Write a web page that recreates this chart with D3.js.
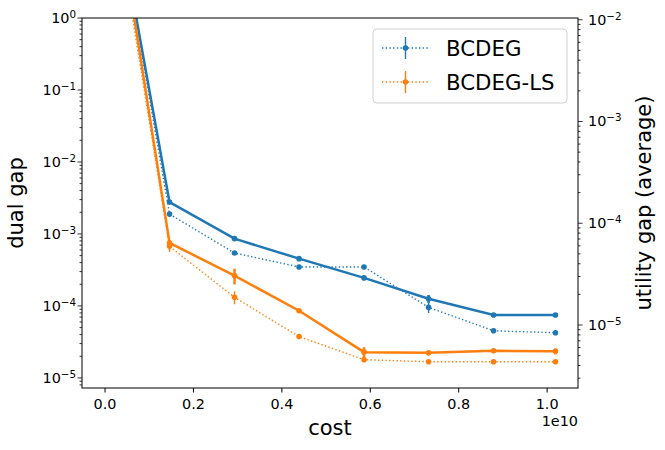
<!DOCTYPE html>
<html>
<head>
<meta charset="utf-8">
<script src="https://d3js.org/d3.v7.min.js"></script>
<style>
body { margin: 0; background: #fff; }
text { font-family: "DejaVu Sans", sans-serif; fill: #000; }
</style>
</head>
<body>
<div id="chart"></div>
<script>
var costs = [0, 0.147e10, 0.294e10, 0.44e10, 0.587e10, 0.733e10, 0.88e10, 1.02e10];

// dual gap (left axis, solid lines)
var bcdegDual = [280, 2.77e-3, 8.6e-4, 4.54e-4, 2.45e-4, 1.26e-4, 7.47e-5, 7.47e-5];
var bcdegDualErr = [0, 0.08e-3, 0, 0, 0, 1.6e-5, 0, 0];
var lsDual = [430, 7.5e-4, 2.64e-4, 8.57e-5, 2.28e-5, 2.23e-5, 2.38e-5, 2.35e-5];
var lsDualErr = [0, 0.75e-4, 0.65e-4, 0, 0.39e-5, 0, 0, 0.23e-5];

// utility gap (right axis, dotted lines)
var bcdegUtil = [0.6, 1.23e-4, 5.1e-5, 3.72e-5, 3.72e-5, 1.49e-5, 8.77e-6, 8.4e-6];
var bcdegUtilErr = [0, 0.55e-5, 0, 0, 0, 1.8e-6, 0, 0];
var lsUtil = [0.52, 5.93e-5, 1.87e-5, 7.7e-6, 4.56e-6, 4.36e-6, 4.36e-6, 4.36e-6];
var lsUtilErr = [0, 0.7e-5, 0.27e-5, 0, 0, 0, 0, 0];

var seriesNames = ["BCDEG", "BCDEG-LS"];
var colors = ["#1f77b4", "#ff7f0e"];
var xTicks = [0, 0.2e10, 0.4e10, 0.6e10, 0.8e10, 1.0e10];
var leftTicks = [-5, -4, -3, -2, -1, 0];
var rightTicks = [-5, -4, -3, -2];

var svgWidth = 665;
var svgHeight = 450;
var margin = { top: 18, right: 87, bottom: 62, left: 82 };
var width = svgWidth - margin.left - margin.right;
var height = svgHeight - margin.top - margin.bottom;

var svg = d3.select("#chart")
    .append("svg")
    .attr("width", svgWidth)
    .attr("height", svgHeight);

var chartGroup = svg.append("g")
    .attr("transform", `translate(${margin.left}, ${margin.top})`);

chartGroup.append("clipPath")
    .attr("id", "plotclip")
    .append("rect")
    .attr("width", width)
    .attr("height", height);

var xPad = 0.05 * (d3.max(costs) - d3.min(costs));
var xScale = d3.scaleLinear()
    .domain([d3.min(costs) - xPad, d3.max(costs) + xPad])
    .range([0, width]);

var yLeft = d3.scaleLog()
    .domain([Math.pow(10, -5.14), 1])
    .range([height, 0]);

var yRight = d3.scaleLog()
    .domain([Math.pow(10, -5.619), Math.pow(10, -1.983)])
    .range([height, 0]);

function minorTicks(scale) {
    var d = scale.domain();
    var out = [];
    for (var e = Math.floor(Math.log10(d[0])); e <= Math.ceil(Math.log10(d[1])); e++) {
        for (var m = 2; m <= 9; m++) {
            var v = m * Math.pow(10, e);
            if (v >= d[0] && v <= d[1]) out.push(v);
        }
    }
    return out;
}

function powLabel(sel, e) {
    sel.append("tspan").text("10");
    sel.append("tspan")
        .attr("dy", "-0.5em")
        .style("font-size", "10.3px")
        .text(e < 0 ? "\u2212" + (-e) : e);
}

// x axis
var bottomAxis = d3.axisBottom(xScale)
    .tickValues(xTicks)
    .tickSize(4.5)
    .tickPadding(6)
    .tickFormat(d => (d / 1e10).toFixed(1));

var xAxisG = chartGroup.append("g")
    .attr("transform", `translate(0, ${height})`)
    .call(bottomAxis);
xAxisG.select(".domain").remove();
xAxisG.selectAll("text").style("font-size", "14.4px").style("font-family", "DejaVu Sans");

// left axis
var leftG = chartGroup.append("g");
leftG.selectAll(".lminor")
    .data(minorTicks(yLeft))
    .enter()
    .append("line")
    .attr("x1", -2.5).attr("x2", 0)
    .attr("y1", d => yLeft(d)).attr("y2", d => yLeft(d))
    .attr("stroke", "#000").attr("stroke-width", 0.8);
leftG.selectAll(".lmajor")
    .data(leftTicks)
    .enter()
    .append("line")
    .attr("x1", -4.5).attr("x2", 0)
    .attr("y1", d => yLeft(Math.pow(10, d))).attr("y2", d => yLeft(Math.pow(10, d)))
    .attr("stroke", "#000").attr("stroke-width", 0.8);
leftG.selectAll(".llabel")
    .data(leftTicks)
    .enter()
    .append("text")
    .attr("x", -6)
    .attr("y", d => yLeft(Math.pow(10, d)) + 5)
    .attr("text-anchor", "end")
    .style("font-size", "14.4px")
    .each(function(d) { powLabel(d3.select(this), d); });

// right axis
var rightG = chartGroup.append("g")
    .attr("transform", `translate(${width}, 0)`);
rightG.selectAll(".rminor")
    .data(minorTicks(yRight))
    .enter()
    .append("line")
    .attr("x1", 0).attr("x2", 2.5)
    .attr("y1", d => yRight(d)).attr("y2", d => yRight(d))
    .attr("stroke", "#000").attr("stroke-width", 0.8);
rightG.selectAll(".rmajor")
    .data(rightTicks)
    .enter()
    .append("line")
    .attr("x1", 0).attr("x2", 4.5)
    .attr("y1", d => yRight(Math.pow(10, d))).attr("y2", d => yRight(Math.pow(10, d)))
    .attr("stroke", "#000").attr("stroke-width", 0.8);
rightG.selectAll(".rlabel")
    .data(rightTicks)
    .enter()
    .append("text")
    .attr("x", 10)
    .attr("y", d => yRight(Math.pow(10, d)) + 5)
    .attr("text-anchor", "start")
    .style("font-size", "14.4px")
    .each(function(d) { powLabel(d3.select(this), d); });

// data
var plotG = chartGroup.append("g").attr("clip-path", "url(#plotclip)");

function drawSeries(values, errs, yScale, color, dotted) {
    var pts = costs.map((c, i) => ({ x: c, y: values[i], e: errs[i] }));
    var line = d3.line().x(d => xScale(d.x)).y(d => yScale(d.y));
    var g = plotG.append("g");
    g.append("path")
        .datum(pts)
        .attr("d", line)
        .attr("fill", "none")
        .attr("stroke", color)
        .attr("stroke-width", dotted ? 1.4 : 2.5)
        .attr("stroke-dasharray", dotted ? "1.4,2.3" : null);
    g.selectAll(".err")
        .data(pts.filter(d => d.e > 0))
        .enter()
        .append("line")
        .attr("x1", d => xScale(d.x)).attr("x2", d => xScale(d.x))
        .attr("y1", d => yScale(d.y - d.e)).attr("y2", d => yScale(d.y + d.e))
        .attr("stroke", color)
        .attr("stroke-width", dotted ? 1.4 : 2.5);
    g.selectAll(".dot")
        .data(pts)
        .enter()
        .append("circle")
        .attr("cx", d => xScale(d.x))
        .attr("cy", d => yScale(d.y))
        .attr("r", 2.8)
        .attr("fill", color);
}

drawSeries(bcdegUtil, bcdegUtilErr, yRight, colors[0], true);
drawSeries(lsUtil, lsUtilErr, yRight, colors[1], true);
drawSeries(bcdegDual, bcdegDualErr, yLeft, colors[0], false);
drawSeries(lsDual, lsDualErr, yLeft, colors[1], false);

// frame
chartGroup.append("rect")
    .attr("width", width)
    .attr("height", height)
    .attr("fill", "none")
    .attr("stroke", "#000")
    .attr("stroke-width", 1);

// axis labels
chartGroup.append("text")
    .attr("x", width / 2)
    .attr("y", height + 47)
    .attr("text-anchor", "middle")
    .style("font-size", "21px")
    .text("cost");

chartGroup.append("text")
    .attr("x", width)
    .attr("y", height + 38)
    .attr("text-anchor", "end")
    .style("font-size", "14.4px")
    .text("1e10");

chartGroup.append("text")
    .attr("transform", `translate(${-59}, ${height / 2}) rotate(-90)`)
    .attr("text-anchor", "middle")
    .style("font-size", "21px")
    .text("dual gap");

chartGroup.append("text")
    .attr("transform", `translate(${width + 73}, ${height / 2}) rotate(-90)`)
    .attr("text-anchor", "middle")
    .style("font-size", "21px")
    .text("utility gap (average)");

// legend
var legend = chartGroup.append("g")
    .attr("transform", `translate(${291}, ${11})`);
legend.append("rect")
    .attr("width", 194)
    .attr("height", 74)
    .attr("rx", 4)
    .attr("fill", "#fff")
    .attr("fill-opacity", 0.8)
    .attr("stroke", "#d0d0d0");

var rows = legend.selectAll(".row")
    .data(seriesNames)
    .enter()
    .append("g")
    .attr("transform", (d, i) => `translate(0, ${19 + i * 34})`);
rows.append("line")
    .attr("x1", 9).attr("x2", 55)
    .attr("stroke", (d, i) => colors[i])
    .attr("stroke-width", 1.4)
    .attr("stroke-dasharray", "1.4,2.3");
rows.append("line")
    .attr("x1", 32.5).attr("x2", 32.5)
    .attr("y1", -11).attr("y2", 11)
    .attr("stroke", (d, i) => colors[i])
    .attr("stroke-width", 1.4);
rows.append("circle")
    .attr("cx", 32.5)
    .attr("r", 2.8)
    .attr("fill", (d, i) => colors[i]);
rows.append("text")
    .attr("x", 73)
    .attr("y", 7.5)
    .style("font-size", "21.3px")
    .text(d => d);
</script>
</body>
</html>
